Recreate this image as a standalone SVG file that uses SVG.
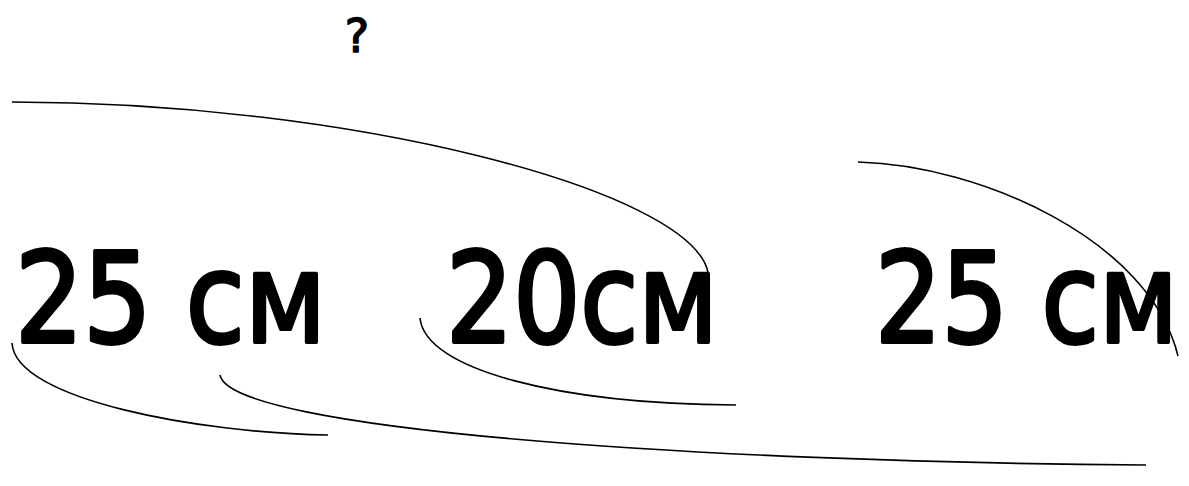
<svg xmlns="http://www.w3.org/2000/svg" width="1189" height="486" viewBox="0 0 1189 486">
<style>
.lbl{font-family:"DejaVu Sans","Noto Sans",sans-serif;font-size:124px;fill:#000;stroke:#000;stroke-width:4;stroke-linejoin:round;stroke-linecap:round;}
.q{font-family:"DejaVu Sans","Noto Sans",sans-serif;font-size:46px;fill:#000;stroke:#000;stroke-width:1.5;stroke-linejoin:round;}
.arc{fill:none;stroke:#000;stroke-width:1.6;}
</style>
<rect width="1189" height="486" fill="#fff"/>
<g id="question"><text class="q" x="357" y="52" text-anchor="middle">?</text></g>
<g id="n1"><text class="lbl" x="15" y="342" textLength="311" lengthAdjust="spacingAndGlyphs">25 см</text></g>
<g id="n2"><text class="lbl" x="446" y="342" textLength="272" lengthAdjust="spacingAndGlyphs">20см</text></g>
<g id="n3"><text class="lbl" x="875" y="342" textLength="303" lengthAdjust="spacingAndGlyphs">25 см</text></g>
<g id="connectors">
<path class="arc" d="M12,102 C350,102 690,190 708,272"/>
<path class="arc" d="M858,162 C980,165 1150,240 1178,356"/>
<path class="arc" d="M12,343 C15,400 200,433 328,435"/>
<path class="arc" d="M220,375 C230,430 700,462 1146,465"/>
<path class="arc" d="M420,318 C425,370 560,404 736,405"/>
</g>
</svg>
